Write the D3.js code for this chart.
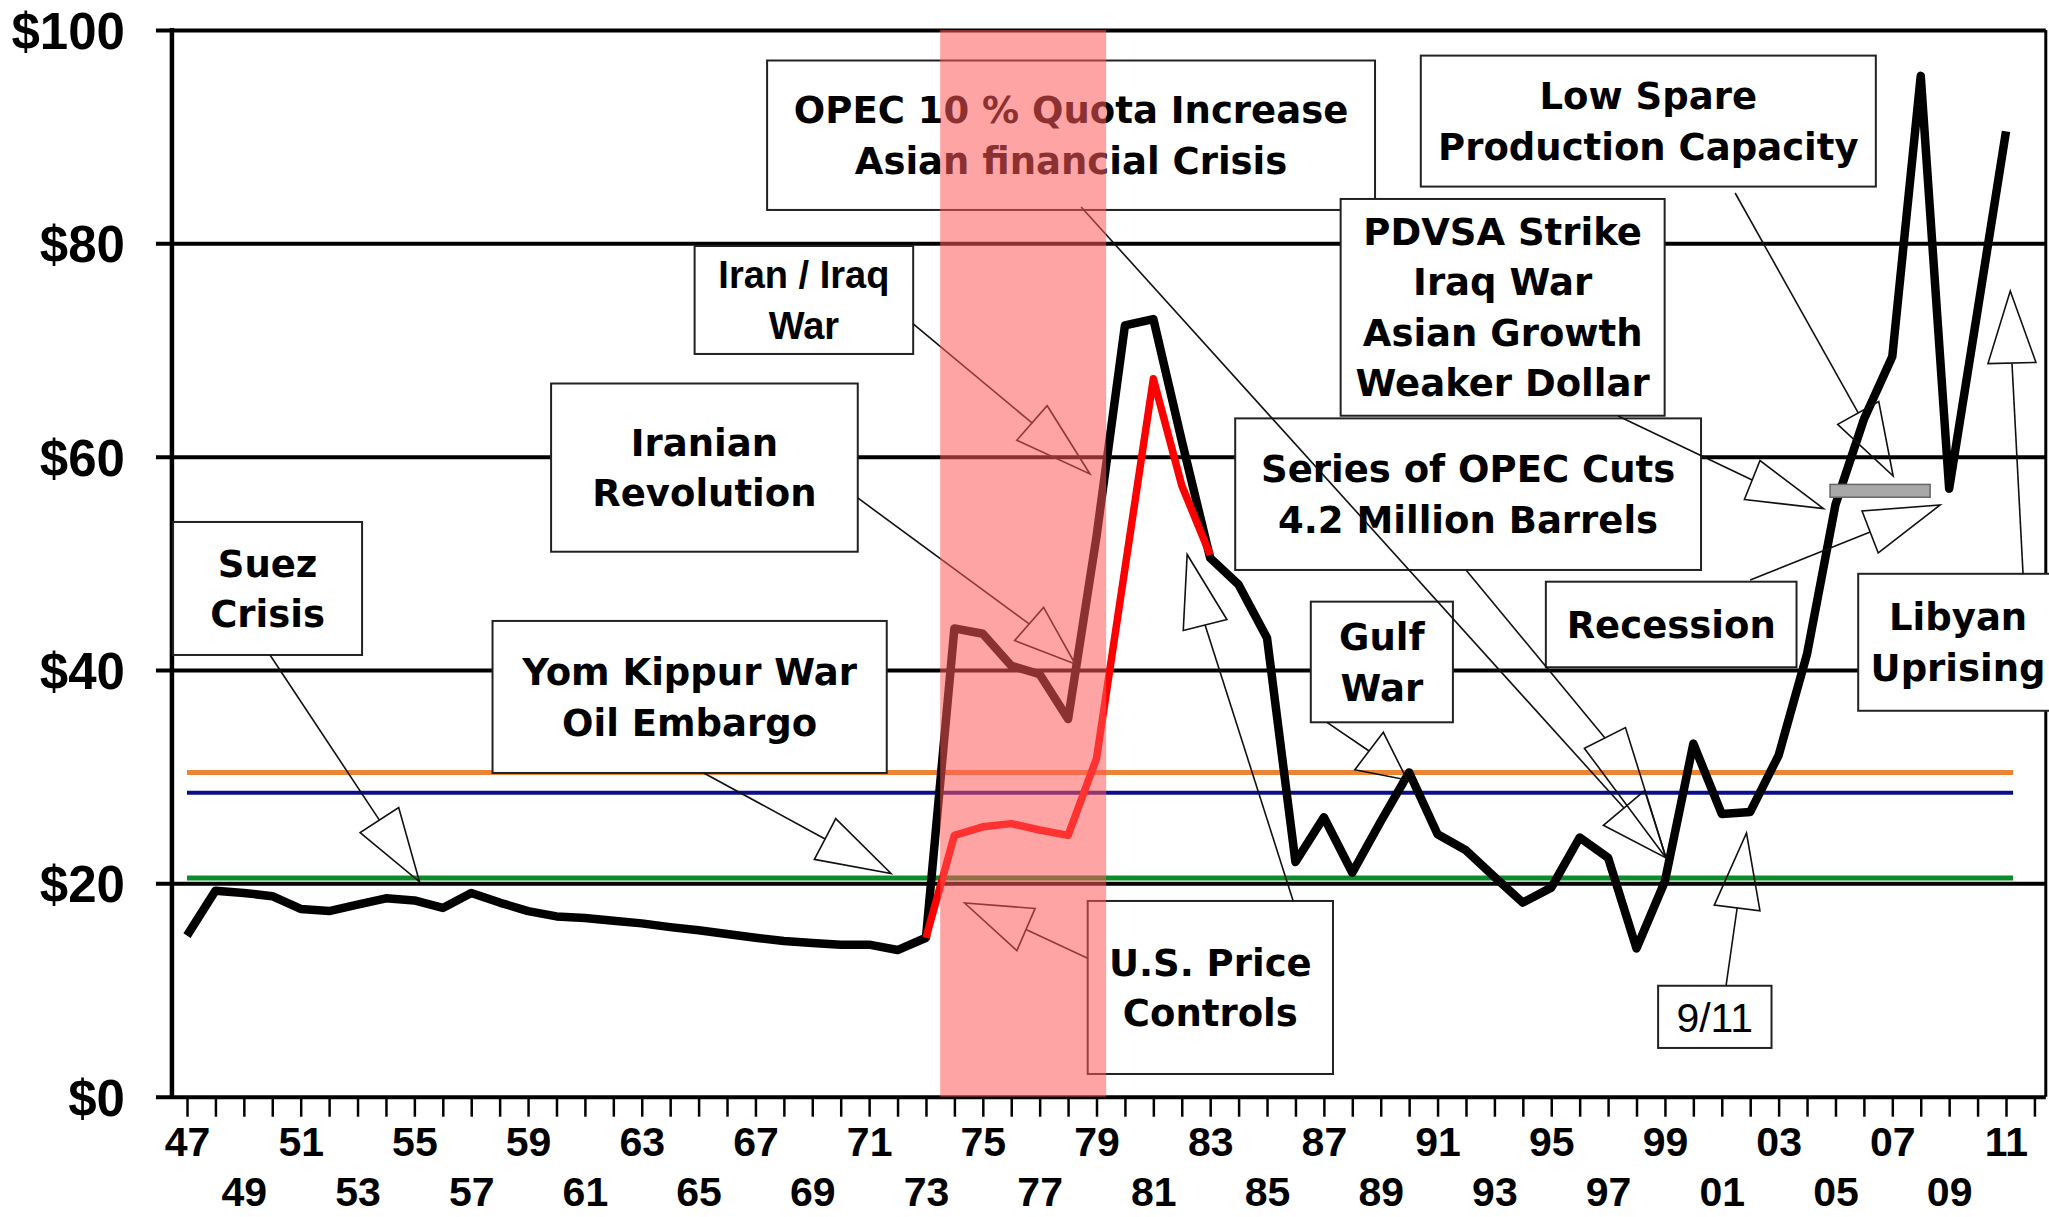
<!DOCTYPE html>
<html>
<head>
<meta charset="utf-8">
<script src="https://cdn.jsdelivr.net/npm/d3@7"></script>
<style>
  body { margin: 0; background: #fff; }
  svg { display: block; }
</style>
</head>
<body>
<div id="chart"></div>
<script>
let svgWidth = 2049;
let svgHeight = 1217;

// category axis: one point per year
let years = d3.range(1947, 2012);

// main (black) price series, 1947-2011
let priceBlack = [
  15.1, 19.3, 19.1, 18.8, 17.6, 17.4, 18.0, 18.6, 18.4, 17.7,
  19.1, 18.2, 17.4, 16.9, 16.75, 16.5, 16.25, 15.9, 15.6, 15.25,
  14.9, 14.6, 14.4, 14.25, 14.25, 13.75, 14.9, 43.9, 43.4, 40.4,
  39.6, 35.4, 52.5, 72.3, 72.9, 61.5, 50.5, 48.0, 43.0, 22.0,
  26.2, 21.0, 25.8, 30.4, 24.6, 23.1, 20.6, 18.2, 19.6, 24.3,
  22.4, 13.9, 20.2, 33.1, 26.5, 26.7, 32.0, 41.5, 55.5, 63.5,
  69.4, 95.7, 57.0, 73.7, 90.5
];

// red series (price controls period), 1973-1983
let redYears = d3.range(1973, 1984);
let priceRed = [14.9, 24.5, 25.3, 25.6, 25.0, 24.5, 31.7, 49.5, 67.3, 57.3, 50.8];

// horizontal reference levels
let refLevels = [30.4, 28.5, 20.5];
let refColors = ["#ec8436", "#0c0c8c", "#0b8c2a"];

// axis ticks and labels
let yTicks = [0, 20, 40, 60, 80, 100];
let xTickYears = d3.range(1947, 2013);
let xTopLabels = d3.range(1947, 2012, 4);
let xBottomLabels = d3.range(1949, 2012, 4);

// shaded period and small grey bar (data units)
let shadeSpan = [1973.5, 1979.34];
let greyBar = [2004.81, 2008.33, 57.4, 56.2];

// annotation texts
let noteTexts = [
  ["OPEC 10 % Quota Increase", "Asian financial Crisis"],
  ["Low Spare", "Production Capacity"],
  ["Iran / Iraq", "War"],
  ["PDVSA Strike", "Iraq War", "Asian Growth", "Weaker Dollar"],
  ["Iranian", "Revolution"],
  ["Series of OPEC Cuts", "4.2 Million Barrels"],
  ["Suez", "Crisis"],
  ["Yom Kippur War", "Oil Embargo"],
  ["Gulf", "War"],
  ["Recession"],
  ["Libyan", "Uprising"],
  ["U.S. Price", "Controls"],
  ["9/11"]
];

// annotation boxes in data units: [yearLeft, yearRight, valueTop, valueBottom]
let noteBoxes = [
  [1967.41, 1988.8, 97.14, 83.13],
  [1990.41, 2006.42, 97.6, 85.32],
  [1964.86, 1972.55, 79.75, 69.63],
  [1987.59, 1998.99, 84.16, 63.84],
  [1959.81, 1970.6, 66.86, 51.09],
  [1983.88, 2000.27, 63.59, 49.38],
  [1946.51, 1953.16, 53.88, 41.41],
  [1957.75, 1971.62, 44.6, 30.35],
  [1986.54, 1991.54, 46.41, 35.1],
  [1994.81, 2003.63, 48.28, 40.26],
  [2005.8, 2012.83, 49.02, 36.18],
  [1978.69, 1987.32, 18.35, 2.13],
  [1998.76, 2002.75, 10.4, 4.57]
];

// pointer arrows in data units: start, arrowhead base, arrowhead tip
let arrows = [
  {from: [1978.46, 83.41], base: [1997.56, 27.07], tip: [1999.04, 22.38], w: 54},
  {from: [2001.47, 84.72], base: [2005.8, 64.1], tip: [2007.03, 58.19], w: 47},
  {from: [1972.55, 72.44], base: [1976.73, 63.16], tip: [1978.77, 58.38], w: 46},
  {from: [1997.35, 63.81], base: [2002.07, 57.81], tip: [2004.58, 55.13], w: 42},
  {from: [1970.6, 56.13], base: [1976.63, 44.32], tip: [1978.25, 40.56], w: 44},
  {from: [1992.0, 49.38], base: [1996.89, 33.63], tip: [1999.04, 22.38], w: 46},
  {from: [1949.92, 41.41], base: [1953.77, 25.93], tip: [1955.18, 20.15], w: 46},
  {from: [1965.18, 30.35], base: [1969.45, 24.16], tip: [1971.77, 20.92], w: 46},
  {from: [1987.11, 35.1], base: [1988.59, 32.41], tip: [1989.93, 29.69], w: 47},
  {from: [2002.0, 48.44], base: [2006.22, 52.94], tip: [2008.68, 55.47], w: 45},
  {from: [2011.6, 49.0], base: [2011.21, 68.78], tip: [2011.15, 75.53], w: 48},
  {from: [1978.67, 13.0], base: [1976.52, 15.67], tip: [1974.36, 18.16], w: 46},
  {from: [1985.92, 18.35], base: [1982.82, 44.22], tip: [1982.19, 50.83], w: 45},
  {from: [2001.15, 10.38], base: [2001.54, 17.69], tip: [2001.87, 24.72], w: 46}
];

let svg = d3.select("#chart")
  .append("svg")
  .attr("width", svgWidth)
  .attr("height", svgHeight);

svg.append("rect").attr("width", svgWidth).attr("height", svgHeight).attr("fill", "#fff");

let x = d3.scaleLinear().domain([1947, 2011]).range([187, 2006]);
let y = d3.scaleLinear().domain([0, 100]).range([1096.7, 30]);

let plotLeft = x(1946.47);
let plotRight = x(2012.4);
let labelFont = "'Liberation Sans', Arial, sans-serif";
let noteFont = "'DejaVu Sans', Verdana, sans-serif";

// gridlines + y labels
svg.append("g")
  .attr("transform", `translate(${plotLeft - 16},0)`)
  .call(d3.axisLeft(y).tickValues(yTicks).tickSize(-(plotRight - plotLeft + 16)).tickPadding(31).tickFormat(d => "$" + d))
  .call(g => g.select(".domain").remove())
  .call(g => g.selectAll("line").attr("stroke", "#000").attr("stroke-width", 4))
  .call(g => g.selectAll("text")
    .attr("dy", "0.36em")
    .attr("fill", "#000")
    .attr("font-family", labelFont)
    .attr("font-size", 51)
    .attr("font-weight", "bold"));

// x ticks
svg.append("g")
  .attr("transform", `translate(0,${y(0)})`)
  .call(d3.axisBottom(x).tickValues(xTickYears).tickSize(20).tickFormat(""))
  .call(g => g.select(".domain").remove())
  .call(g => g.selectAll("line").attr("stroke", "#000").attr("stroke-width", 2.5));

// x labels in two staggered rows
[[xTopLabels, 30.6], [xBottomLabels, 80.6]].forEach(([vals, pad]) => {
  svg.append("g")
    .attr("transform", `translate(0,${y(0)})`)
    .call(d3.axisBottom(x).tickValues(vals).tickSize(0).tickPadding(pad).tickFormat(d => d3.format("02")(d % 100)))
    .call(g => g.select(".domain").remove())
    .call(g => g.selectAll("text")
      .attr("fill", "#000")
      .attr("font-family", labelFont)
      .attr("font-size", 41)
      .attr("font-weight", "bold"));
});

// frame: left axis and right border
svg.append("line")
  .attr("x1", plotLeft).attr("x2", plotLeft)
  .attr("y1", y(100) - 2).attr("y2", y(0) + 2)
  .attr("stroke", "#000").attr("stroke-width", 4.5);
svg.append("line")
  .attr("x1", plotRight).attr("x2", plotRight)
  .attr("y1", y(100)).attr("y2", y(0))
  .attr("stroke", "#000").attr("stroke-width", 3);

// reference levels
svg.selectAll(".ref")
  .data(refLevels)
  .enter()
  .append("line")
  .attr("class", "ref")
  .attr("x1", x(1947)).attr("x2", x(2011.25))
  .attr("y1", d => y(d)).attr("y2", d => y(d))
  .attr("stroke", (d, i) => refColors[i])
  .attr("stroke-width", (d, i) => i === 1 ? 4 : 5);

// annotation boxes
let lineH = 50.5;
let notes = svg.selectAll(".note")
  .data(noteTexts)
  .enter()
  .append("g")
  .attr("class", "note");

notes.append("rect")
  .attr("x", (d, i) => x(noteBoxes[i][0]))
  .attr("y", (d, i) => y(noteBoxes[i][2]))
  .attr("width", (d, i) => x(noteBoxes[i][1]) - x(noteBoxes[i][0]))
  .attr("height", (d, i) => y(noteBoxes[i][3]) - y(noteBoxes[i][2]))
  .attr("fill", "#fff")
  .attr("stroke", "#222")
  .attr("stroke-width", 2);

notes.each(function(lines, i) {
  let b = noteBoxes[i];
  let cx = (x(b[0]) + x(b[1])) / 2;
  let cy = (y(b[2]) + y(b[3])) / 2;
  let fam = noteFont, size = 37, weight = "bold";
  if (lines[0] === "Iran / Iraq") { fam = labelFont; size = 38; }
  if (lines[0] === "9/11") { fam = labelFont; size = 41; weight = "normal"; }
  d3.select(this).selectAll("text")
    .data(lines)
    .enter()
    .append("text")
    .attr("x", cx)
    .attr("y", (t, k) => cy + (k - (lines.length - 1) / 2) * lineH + size * 0.36)
    .attr("text-anchor", "middle")
    .attr("font-family", fam)
    .attr("font-size", size)
    .attr("font-weight", weight)
    .attr("fill", "#000")
    .text(t => t);
});

// price lines
let blackLine = d3.line()
  .x((d, i) => x(years[i]))
  .y(d => y(d));

svg.append("path")
  .attr("d", blackLine(priceBlack))
  .attr("fill", "none")
  .attr("stroke", "#000")
  .attr("stroke-width", 8.5)
  .attr("stroke-linejoin", "round");

let redLine = d3.line()
  .x((d, i) => x(redYears[i]))
  .y(d => y(d));

svg.append("path")
  .attr("d", redLine(priceRed))
  .attr("fill", "none")
  .attr("stroke", "#ff0000")
  .attr("stroke-width", 7.5)
  .attr("stroke-linejoin", "round");

// grey bar
svg.append("rect")
  .attr("x", x(greyBar[0]))
  .attr("y", y(greyBar[2]))
  .attr("width", x(greyBar[1]) - x(greyBar[0]))
  .attr("height", y(greyBar[3]) - y(greyBar[2]))
  .attr("fill", "#a8a8a8")
  .attr("stroke", "#666")
  .attr("stroke-width", 1.5);

// pointer arrows with open heads
function headPath(a) {
  let bx = x(a.base[0]), by = y(a.base[1]);
  let tx = x(a.tip[0]), ty = y(a.tip[1]);
  let len = Math.hypot(tx - bx, ty - by);
  let nx = -(ty - by) / len, ny = (tx - bx) / len;
  let h = a.w / 2;
  return `M${bx + nx * h},${by + ny * h}L${tx},${ty}L${bx - nx * h},${by - ny * h}Z`;
}

let arrowG = svg.append("g")
  .attr("fill", "none")
  .attr("stroke", "#111")
  .attr("stroke-width", 1.6);

arrowG.selectAll(".shaft")
  .data(arrows)
  .enter()
  .append("line")
  .attr("x1", d => x(d.from[0])).attr("y1", d => y(d.from[1]))
  .attr("x2", d => x(d.base[0])).attr("y2", d => y(d.base[1]));

arrowG.selectAll(".head")
  .data(arrows)
  .enter()
  .append("path")
  .attr("d", headPath);

// translucent shaded period on top
svg.append("rect")
  .attr("x", x(shadeSpan[0]))
  .attr("y", y(100))
  .attr("width", x(shadeSpan[1]) - x(shadeSpan[0]))
  .attr("height", y(0) - y(100))
  .attr("fill", "rgb(255,90,90)")
  .attr("fill-opacity", 0.55);
</script>
</body>
</html>
